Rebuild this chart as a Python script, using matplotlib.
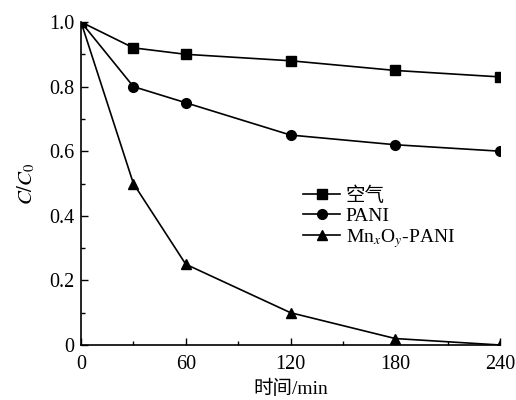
import matplotlib
matplotlib.use("Agg")
import matplotlib.pyplot as plt

time_min = [0, 30, 60, 120, 180, 240]
air = [1.0, 0.92, 0.90, 0.88, 0.85, 0.83]
pani = [1.0, 0.80, 0.75, 0.65, 0.62, 0.60]
mnoxy_pani = [1.0, 0.50, 0.25, 0.10, 0.02, 0.0]

x_ticks = [0, 60, 120, 180, 240]
y_ticks = [0, 0.2, 0.4, 0.6, 0.8, 1.0]
y_labels = ["0", "0.2", "0.4", "0.6", "0.8", "1.0"]

plt.rcParams['font.family'] = ['Liberation Serif', 'Noto Sans CJK SC']
plt.rcParams['mathtext.fontset'] = 'stix'
plt.rcParams['font.size'] = 14

fig = plt.figure(figsize=(5.16, 4.0), dpi=100)
ax = fig.add_axes([0.157, 0.1375, 0.812, 0.8075])

ax.plot(time_min, air, color='black', lw=1.2, marker='s', ms=6.5, label='空气')
ax.plot(time_min, pani, color='black', lw=1.2, marker='o', ms=7, label='PANI')
ax.plot(time_min, mnoxy_pani, color='black', lw=1.2, marker='^', ms=7.5,
        label='Mn$_x$O$_y$-PANI')

ax.set_xlim(0, 240)
ax.set_ylim(0, 1.0)
ax.set_xticks(x_ticks)
ax.set_xticks([30, 90, 150, 210], minor=True)
ax.set_yticks(y_ticks)
ax.set_yticklabels(y_labels)
ax.set_yticks([0.1, 0.3, 0.5, 0.7, 0.9], minor=True)
ax.tick_params(which='both', direction='in', width=1.0)
ax.tick_params(which='major', length=5, labelsize=14.5)
ax.tick_params(axis='y', which='major', pad=5)
ax.tick_params(axis='x', which='major', pad=7)
ax.tick_params(which='minor', length=3)

for s in ['top', 'right']:
    ax.spines[s].set_visible(False)
for s in ['left', 'bottom']:
    ax.spines[s].set_linewidth(1.2)

ax.set_xlabel('时间/min', fontsize=14, labelpad=4)
ax.set_ylabel('$C/C_{\\mathrm{0}}$', fontsize=15, labelpad=8)

ax.legend(loc='upper left', bbox_to_anchor=(0.53, 0.49), frameon=False,
          handlelength=1.9, handletextpad=0.3, labelspacing=0.1,
          borderpad=0, borderaxespad=0, fontsize=14)

fig.savefig('out.png', dpi=100)
